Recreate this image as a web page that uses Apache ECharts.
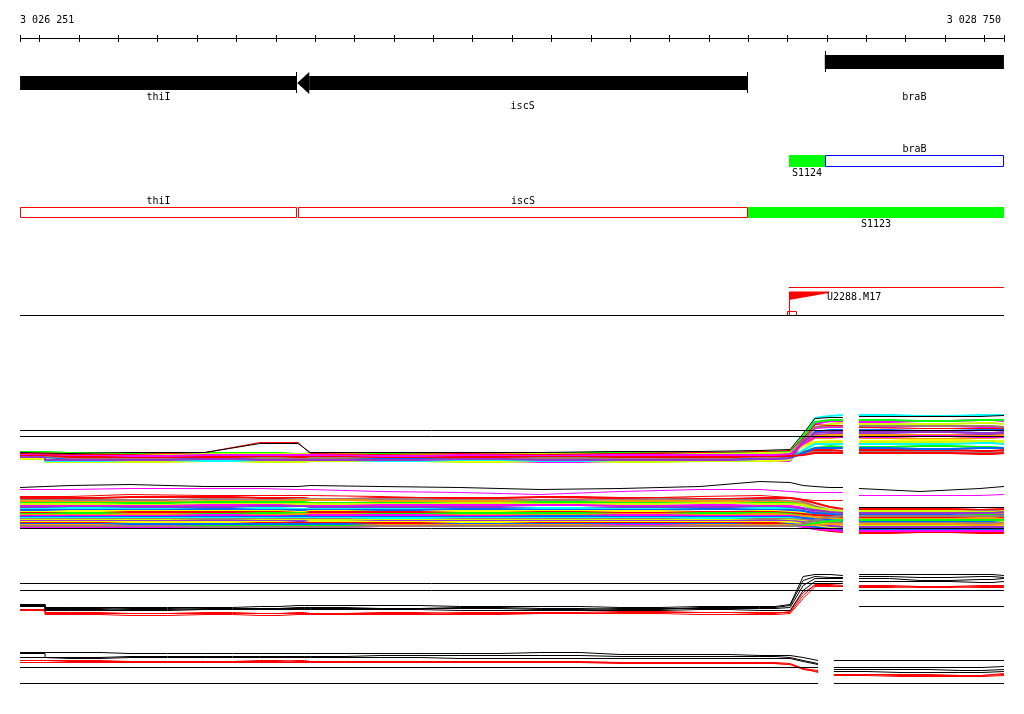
<!DOCTYPE html>
<html><head><meta charset="utf-8">
<script src="https://cdn.jsdelivr.net/npm/echarts@6/dist/echarts.min.js"></script>
<style>html,body{margin:0;padding:0;background:#fff}#c{width:1024px;height:714px}</style>
</head><body><div id="c"></div>
<script>
// ---------------- DATA ----------------
const rulerStart = 3026251, rulerEnd = 3028750;
const rulerTicks = [3026251, 3026300, 3026400, 3026500, 3026600, 3026700, 3026800, 3026900, 3027000,
  3027100, 3027200, 3027300, 3027400, 3027500, 3027600, 3027700, 3027800, 3027900, 3028000,
  3028100, 3028200, 3028300, 3028400, 3028500, 3028600, 3028700, 3028750];
const rulerLabels = ['3 026 251', '3 028 750'];

const geneNames = ['thiI', 'iscS', 'braB'];
const geneStarts = [3026251, 3026955, 3028295];
const geneEnds = [3026954, 3028100, 3028750];
const geneStrands = [-1, -1, 1];

const segNames = ['S1124', 'braB', 'thiI', 'iscS', 'S1123'];
const segStarts = [3028204, 3028295, 3026251, 3026956, 3028100];
const segEnds = [3028295, 3028750, 3026954, 3028100, 3028750];
const segStrands = [1, 1, -1, -1, -1];
const segKinds = ['transcript', 'gene', 'gene', 'gene', 'transcript'];

const oligoName = 'U2288.M17';
const oligoStart = 3028204, oligoEnd = 3028750;

// probe positions (bp)
const probesLeft = [3026251, 3026378, 3026530, 3026721, 3026860, 3026957, 3026988, 3027165, 3027368,
  3027572, 3027775, 3027978, 3028130, 3028207, 3028240, 3028270, 3028308, 3028341];
const probesRight = [3028382, 3028537, 3028689, 3028750];
const probesLeftD = [3026251, 3026378, 3026530, 3026721, 3026860, 3026957, 3026988, 3027165, 3027368,
  3027572, 3027775, 3027978, 3028130, 3028207, 3028240, 3028278];
const probesRightD = [3028318, 3028486, 3028638, 3028750];

// Block A (signal units)
const a01 = [13,9,9,10,9,9,9,10,9,8,9,10,9,9,28,46,49,48, 48,49,50,49];
const a02 = [15,12,11,11,12,12,11,11,12,11,12,11,12,12,33,52,54,55, 55,54,55,55];
const a03 = [12,10,10,11,10,10,11,10,10,11,10,10,11,12,18,22,24,23, 23,24,23,22];
const a04 = [14,11,12,12,13,13,12,11,12,12,13,12,12,13,28,38,40,40, 40,39,40,41];
const a05 = [16,15,14,15,15,16,15,14,15,15,14,15,16,17,24,32,32,33, 32,31,32,33];
const a06 = [15,14,13,14,14,13,13,14,14,13,14,14,15,14,16,18,18,17, 18,18,17,18];
const a07 = [11,8,8,9,8,8,9,9,8,9,8,9,9,10,27,42,46,47, 46,46,47,46];
const a08 = [17,16,16,15,16,16,15,16,16,15,16,16,16,17,26,35,36,36, 36,35,36,36];
const a09 = [12,10,10,10,11,11,10,10,9,10,10,11,10,11,20,28,29,29, 29,30,29,29];
const a10 = [16,15,15,16,15,15,16,16,15,16,16,15,16,16,18,20,20,19, 20,20,19,20];
const a11 = [14,13,12,13,13,14,13,12,13,13,12,13,13,14,30,42,43,43, 43,44,43,42];
const a12 = [13,9,10,9,10,10,10,9,10,9,10,10,11,12,20,26,26,26, 26,26,27,26];
const a13 = [18,17,16,17,17,16,17,17,16,17,18,17,18,18,34,48,50,50, 50,49,50,50];
const a14 = [13,11,11,11,11,12,11,11,12,11,11,12,11,12,17,22,22,22, 22,21,22,22];
const a15 = [15,14,14,14,13,14,14,14,14,15,14,14,15,15,26,34,35,35, 35,35,34,35];
const a16 = [14,12,12,13,12,12,12,13,12,12,12,12,13,14,31,43,44,44, 44,44,44,43];
const a17 = [17,16,15,16,16,16,16,15,16,16,15,16,17,17,24,28,28,28, 28,28,29,28];
const a18 = [13,10,10,11,10,10,10,10,11,10,10,10,11,12,28,37,38,38, 38,38,37,38];
const a19 = [15,13,13,13,14,13,14,13,13,14,13,13,14,14,15,17,17,17, 17,17,16,17];
const a20 = [16,15,14,15,15,15,15,14,15,15,15,15,15,16,26,33,33,33, 33,34,33,33];
const aRed = [17,16,16,18,28,28,17,16,17,16,17,18,19,20,32,46,45,45, 43,42,42,42];
const aBlack = [18,17,18,18,27,27,18,18,18,18,19,19,20,21,37,52,53,53, 54,54,54,55];
const aRefsLeft = [40, 34];
const aRefsRight = [40, 34];

// Block B
const bTop = [53,55,56,54,54,54,55,54,53,51,52,54,59,58,55,54,53,53, 52,49,52,54];
const bMag = [51,51,52,52,52,51,51,49,48,46,49,51,51,49,48,48,48,48, 45,45,45,46];
const bRed = [44,44,46,45,45,45,45,44,42,43,42,44,45,43,41,40,40,40, 32,32,33,32];
const b01 = [42,42,43,43,42,42,41,42,42,43,42,41,42,42,40,37,33,31, 30,31,30,30];
const b02 = [40,40,40,41,40,41,41,41,40,40,41,40,40,39,38,34,30,29, 28,28,29,28];
const b03 = [39,38,38,39,39,40,40,39,39,38,39,39,38,38,36,32,28,27, 26,27,26,26];
const b04 = [37,37,37,38,38,38,37,37,37,38,37,37,37,37,35,30,26,25, 24,24,25,24];
const b05 = [36,36,35,36,36,36,36,36,37,36,36,37,36,36,35,32,30,29, 29,29,28,29];
const b06 = [34,34,34,35,35,34,34,35,35,35,34,35,34,34,32,28,24,23, 22,22,23,22];
const b07 = [33,33,33,33,34,34,33,33,33,32,33,33,33,32,31,30,28,27, 27,27,27,28];
const b08 = [31,32,31,31,32,31,31,31,31,32,31,31,32,31,29,25,22,21, 20,20,21,20];
const b09 = [30,30,30,31,30,30,30,30,31,30,30,31,30,30,29,27,26,25, 25,25,24,25];
const b10 = [28,29,29,29,29,28,29,28,29,29,29,28,29,28,27,23,20,19, 18,18,18,19];
const b11 = [27,27,28,28,28,27,28,28,27,28,27,28,28,27,26,25,24,23, 23,23,23,23];
const b12 = [26,27,26,26,27,27,26,26,27,27,26,27,27,26,24,20,17,16, 16,16,16,17];
const b13 = [25,25,26,25,25,26,26,25,25,25,26,25,26,25,24,23,22,21, 21,21,22,21];
const b14 = [24,24,24,25,24,24,25,25,24,24,25,24,24,24,22,18,15,14, 14,14,14,14];
const b15 = [23,23,23,23,23,24,23,23,23,24,23,23,23,23,22,21,20,19, 19,19,19,20];
const b16 = [22,22,22,22,22,22,22,22,22,22,22,22,22,22,20,16,13,12, 12,12,12,12];
const b17 = [21,21,21,21,21,21,21,20,21,21,21,20,21,21,20,19,18,17, 17,17,17,17];
const b18 = [20,20,20,19,20,20,20,20,20,20,20,20,19,20,19,17,16,15, 15,15,15,15];
const b19 = [19,19,19,19,19,19,18,19,19,19,19,19,19,19,18,16,14,13, 13,13,13,13];
const b20 = [18,18,18,18,18,17,18,18,18,18,18,18,18,18,16,14,12,11, 11,11,11,11];
const b21 = [17,17,16,16,17,17,17,17,16,17,17,17,17,16,14,11,9,8, 7,8,7,7];
const b22 = [16,16,16,16,16,16,16,15,16,16,16,16,15,16,15,13,11,10, 10,10,10,10];
const b23 = [13,13,13,13,13,13,13,14,15,15,15,15,15,15,13,11,10,9, 9,9,9,9];
const b24 = [15,15,14,14,14,14,14,15,15,15,14,15,15,15,15,15,16,16, 16,16,15,16];
const b25 = [14,14,14,14,14,14,14,14,14,14,14,14,14,14,15,17,19,20, 20,20,20,20];
const b26 = [14,14,14,13,13,13,13,14,14,14,14,14,14,14,16,20,23,24, 24,24,24,24];
const bRefsLeft = [12];
const bRefsRight = [33, 12];

// Block C
const c01 = [16,13,13,13,14,15,15,15,14,14,13,14,14,16,44,46,46,45, 46,46,46,45];
const c02 = [15,11,12,11,12,13,13,12,13,12,11,13,13,15,40,44,43,43, 44,43,44,43];
const c03 = [16,12,11,12,12,12,12,12,12,11,12,12,12,13,35,42,42,42, 42,40,41,42];
const c04 = [14,10,10,11,11,11,11,11,10,10,10,11,10,10,30,39,39,39, 39,39,38,39];
const c05 = [11,7,7,8,7,7,7,7,8,8,9,8,8,8,25,36,36,35, 35,34,35,35];
const c06 = [10,6,5,6,5,6,6,6,6,7,7,6,6,7,22,34,34,34, 34,33,34,34];
const c07 = [11,8,7,7,7,8,7,8,7,7,8,8,7,9,28,35,35,34, 33,34,33,33];
const cRefsLeft = [37, 30];
const cRefsRight = [30, 14];

// Block D
const d01 = [38,38,37,37,37,37,37,37,37,38,36,36,35,35,33,30, 23,23,23,24];
const d02 = [37,33,34,34,34,34,34,35,35,35,34,34,34,33,30,27, 21,21,20,21];
const d03 = [33,32,33,33,33,33,33,33,32,32,32,32,32,32,29,26, 19,18,18,19];
const d04 = [30,29,29,29,29,30,29,29,29,29,28,28,28,27,22,20, 16,15,15,16];
const d05 = [28,28,28,28,28,28,28,28,28,28,27,27,27,26,21,19, 15,14,14,15];
const d06 = [30,30,29,29,30,29,29,29,29,28,28,27,27,26,22,18, 16,16,15,17];
const dRefsLeft = [23, 7];
const dRefsRight = [30, 7];

// ---------------- STYLE / LAYOUT ----------------
const RED='#ff0000', GREEN='#00ff00', BLUE='#0066ff', MAG='#ff00ff', CYAN='#00ffff',
  ORANGE='#ff9900', GRAY='#a07878', LIME='#ccff00', PURPLE='#9933cc', YELLOW='#ffff00', BLACK='#000000';
const FONT = '10px "DejaVu Sans Mono", monospace';
const X_MIN = 3026200, X_MAX = 3028801;
const RISE_INDEX = 13;

const blockA = [a01,a02,a03,a04,a05,a06,a07,a08,a09,a10,a11,a12,a13,a14,a15,a16,a17,a18,a19,a20];
const blockAColors = [MAG,CYAN,GREEN,BLUE,ORANGE,GRAY,LIME,PURPLE,YELLOW,RED,MAG,CYAN,GREEN,BLUE,ORANGE,GRAY,LIME,PURPLE,RED,MAG];
const blockB = [b01,b02,b03,b04,b05,b06,b07,b08,b09,b10,b11,b12,b13,b14,b15,b16,b17,b18,b19,b20,b21,b22,b23,b24,b25,b26];
const blockBColors = [RED,GRAY,ORANGE,GREEN,LIME,MAG,PURPLE,CYAN,BLUE,YELLOW,RED,GREEN,ORANGE,MAG,BLUE,CYAN,GRAY,LIME,PURPLE,YELLOW,RED,BLUE,MAG,ORANGE,GREEN,GRAY];

// grids: 0 annotation, 1/2 thick-line layers of A/B, 3/4 C/D, 5/6 thin-line layers of A/B (half-pixel offset)
const grids = [
  {left:0, right:0, top:0, bottom:0},
  {left:0, right:0, top:400, height:70},
  {left:0, right:0, top:475, height:65},
  {left:0, right:0, top:565.5, height:55},
  {left:0, right:0, top:640.5, height:50},
  {left:0, right:0, top:400.5, height:70},
  {left:0, right:0, top:475.5, height:65}
];
const yMax = [714, 70, 65, 55, 50, 70, 65];

const series = [];
function addLine(gi, data, color, width, step) {
  series.push({type:'line', xAxisIndex:gi, yAxisIndex:gi, data, symbol:'none', showSymbol:false,
    step: step ? 'middle' : false, silent:true, animation:false, lineStyle:{color, width}});
}
function lineSeries(gi, pL, pR, vals, color, width, stepped) {
  const left = [], rise = [], right = [];
  pL.forEach((p, i) => {
    if (i <= RISE_INDEX) left.push([p, vals[i]]);
    if (i >= RISE_INDEX) rise.push([p, vals[i]]);
  });
  pR.forEach((p, i) => right.push([p, vals[pL.length + i]]));
  addLine(gi, left, color, width, stepped);
  addLine(gi, rise, color, width, false);
  addLine(gi, right, color, width, stepped);
}
function refSeries(gi, pL, pR, refsL, refsR) {
  refsL.forEach(v => addLine(gi, [[pL[0], v], [pL[pL.length-1], v]], BLACK, 1, false));
  refsR.forEach(v => addLine(gi, [[pR[0], v], [pR[pR.length-1], v]], BLACK, 1, false));
}

// Block A
blockA.forEach((v, i) => lineSeries(1, probesLeft, probesRight, v, blockAColors[i], 2, true));
lineSeries(5, probesLeft, probesRight, aRed, RED, 1, false);
lineSeries(5, probesLeft, probesRight, aBlack, BLACK, 1, false);
refSeries(5, probesLeft, probesRight, aRefsLeft, aRefsRight);
// Block B
blockB.forEach((v, i) => lineSeries(2, probesLeft, probesRight, v, blockBColors[i], 2, true));
lineSeries(6, probesLeft, probesRight, bRed, RED, 1, false);
lineSeries(6, probesLeft, probesRight, bMag, MAG, 1, false);
lineSeries(6, probesLeft, probesRight, bTop, BLACK, 1, false);
refSeries(6, probesLeft, probesRight, bRefsLeft, bRefsRight);
// Block C
[c05, c06, c07].forEach(v => lineSeries(3, probesLeft, probesRight, v, RED, 1, true));
[c01, c02, c03, c04].forEach(v => lineSeries(3, probesLeft, probesRight, v, BLACK, 1, true));
refSeries(3, probesLeft, probesRight, cRefsLeft, cRefsRight);
// Block D
[d04, d05, d06].forEach(v => lineSeries(4, probesLeftD, probesRightD, v, RED, 1, true));
[d01, d02, d03].forEach(v => lineSeries(4, probesLeftD, probesRightD, v, BLACK, 1, true));
refSeries(4, probesLeftD, probesRightD, dRefsLeft, dRefsRight);

// Annotation tracks (grid 0, y axis in screen rows)
const geneLabelY = [97, 106, 97];
series.push({
  type:'custom', xAxisIndex:0, yAxisIndex:0, silent:true, animation:false, data:[[rulerStart, 0]],
  renderItem: function (params, api) {
    const X = v => api.coord([v, 0])[0];
    const S = v => Math.round(X(v)) + 0.5;
    const ch = [];
    const line = (x1, y1, x2, y2, stroke, w) => ch.push({type:'line', shape:{x1, y1, x2, y2}, style:{stroke, lineWidth:w || 1}});
    const rect = (x, y, w, h, fill, stroke) => ch.push({type:'rect', shape:{x, y, width:w, height:h},
      style:{fill: fill || 'none', stroke: stroke || 'none', lineWidth:1}});
    const text = (t, x, y, align) => ch.push({type:'text', x, y, style:{text:t, fill:'#000', font:FONT, align, verticalAlign:'middle'}});

    // ruler
    line(X(rulerStart), 38.5, X(rulerEnd), 38.5, BLACK);
    rulerTicks.forEach(t => line(S(t), 35, S(t), 42, BLACK));
    text(rulerLabels[0], X(rulerStart), 20, 'left');
    text(rulerLabels[1], X(rulerEnd) - 3, 20, 'right');

    // genes
    geneNames.forEach((g, i) => {
      const x1 = X(geneStarts[i]), x2 = X(geneEnds[i]);
      const cy = geneStrands[i] > 0 ? 62 : 83;
      let bx1 = x1, bx2 = x2;
      if (geneStrands[i] < 0 && geneStarts[i] > rulerStart) {
        ch.push({type:'polygon', shape:{points:[[x1, cy], [x1 + 12, cy - 11], [x1 + 12, cy + 11]]}, style:{fill:BLACK}});
        bx1 = x1 + 12;
      }
      if (geneStrands[i] > 0 && geneEnds[i] < rulerEnd) {
        ch.push({type:'polygon', shape:{points:[[x2, cy], [x2 - 12, cy - 11], [x2 - 12, cy + 11]]}, style:{fill:BLACK}});
        bx2 = x2 - 12;
      }
      rect(bx1, cy - 7, bx2 - bx1, 14, BLACK);
      if (geneStrands[i] < 0 && geneEnds[i] < rulerEnd) line(S(geneEnds[i]) - 1, cy - 11, S(geneEnds[i]) - 1, cy + 10, BLACK);
      if (geneStrands[i] > 0 && geneStarts[i] > rulerStart) line(S(geneStarts[i]), cy - 11, S(geneStarts[i]), cy + 10, BLACK);
      text(g, (Math.max(x1, X(rulerStart)) + Math.min(x2, X(rulerEnd))) / 2, geneLabelY[i], 'center');
    });

    // transcripts / gene models
    segNames.forEach((s, i) => {
      const x1 = Math.round(X(segStarts[i])), x2 = Math.round(X(segEnds[i]));
      const top = segStrands[i] > 0 ? 155 : 207;
      const h = segStrands[i] > 0 ? 11 : 10;
      if (segKinds[i] === 'transcript') {
        rect(x1, top, x2 - x1, h + 1, GREEN);
        text(s, (x1 + x2) / 2, top + h + 7, 'center');
      } else {
        rect(x1 + 0.5, top + 0.5, x2 - x1 - 1, h, null, segStrands[i] > 0 ? '#0000ff' : RED);
        text(s, (x1 + x2) / 2, top - 6, 'center');
      }
    });

    // oligo probe track
    const ox = Math.round(X(oligoStart));
    line(ox, 287.5, X(oligoEnd), 287.5, RED);
    ch.push({type:'polygon', shape:{points:[[ox, 291.5], [ox + 40, 291.5], [ox + 40, 293], [ox, 300]]}, style:{fill:RED}});
    line(ox + 0.5, 292, ox + 0.5, 315, RED);
    rect(ox - 1.5, 311.5, 9, 4, null, RED);
    line(X(rulerStart), 315.5, X(rulerEnd), 315.5, BLACK);
    text(oligoName, ox + 38, 297.5, 'left');

    return {type:'group', children: ch};
  }
});

const chart = echarts.init(document.getElementById('c'), null, {renderer:'canvas'});
chart.setOption({
  animation:false,
  backgroundColor:'#ffffff',
  grid: grids,
  xAxis: grids.map((g, i) => ({type:'value', gridIndex:i, min:X_MIN, max:X_MAX, show:false})),
  yAxis: grids.map((g, i) => ({type:'value', gridIndex:i, min:0, max:yMax[i], inverse: i === 0, show:false})),
  series
});
</script></body></html>
